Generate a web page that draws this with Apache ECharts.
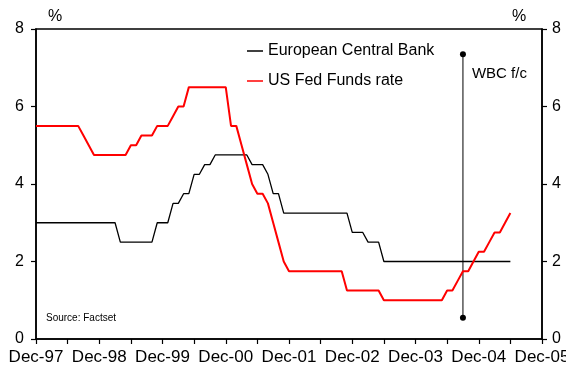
<!DOCTYPE html>
<html>
<head>
<meta charset="utf-8">
<script src="https://cdn.jsdelivr.net/npm/echarts@6/dist/echarts.min.js"></script>
<style>
  html, body { margin: 0; padding: 0; background: #ffffff; }
  #chart { width: 566px; height: 374px; }
</style>
</head>
<body>
<div id="chart"></div>
<script>
// Monthly policy rates, Dec-97 to Jun-05 (%)
const startYear = 1997, startMonth = 12, monthCount = 91;

const ecbRate = [
  3.0, 3.0, 3.0, 3.0, 3.0, 3.0, 3.0, 3.0, 3.0, 3.0, 3.0, 3.0, 3.0, 3.0, 3.0, 3.0,
  2.5, 2.5, 2.5, 2.5, 2.5, 2.5, 2.5,
  3.0, 3.0, 3.0,
  3.5, 3.5,
  3.75, 3.75,
  4.25, 4.25,
  4.5, 4.5,
  4.75, 4.75, 4.75, 4.75, 4.75, 4.75, 4.75,
  4.5, 4.5, 4.5,
  4.25,
  3.75, 3.75,
  3.25, 3.25, 3.25, 3.25, 3.25, 3.25, 3.25, 3.25, 3.25, 3.25, 3.25, 3.25, 3.25,
  2.75, 2.75, 2.75,
  2.5, 2.5, 2.5,
  2.0, 2.0, 2.0, 2.0, 2.0, 2.0, 2.0, 2.0, 2.0, 2.0, 2.0, 2.0, 2.0, 2.0, 2.0, 2.0,
  2.0, 2.0, 2.0, 2.0, 2.0, 2.0, 2.0, 2.0, 2.0
];

const fedRate = [
  5.5, 5.5, 5.5, 5.5, 5.5, 5.5, 5.5, 5.5, 5.5,
  5.25, 5.0,
  4.75, 4.75, 4.75, 4.75, 4.75, 4.75, 4.75,
  5.0, 5.0,
  5.25, 5.25, 5.25,
  5.5, 5.5, 5.5,
  5.75,
  6.0, 6.0,
  6.5, 6.5, 6.5, 6.5, 6.5, 6.5, 6.5, 6.5,
  5.5, 5.5,
  5.0, 4.5, 4.0,
  3.75, 3.75,
  3.5, 3.0, 2.5, 2.0,
  1.75, 1.75, 1.75, 1.75, 1.75, 1.75, 1.75, 1.75, 1.75, 1.75, 1.75,
  1.25, 1.25, 1.25, 1.25, 1.25, 1.25, 1.25,
  1.0, 1.0, 1.0, 1.0, 1.0, 1.0, 1.0, 1.0, 1.0, 1.0, 1.0, 1.0,
  1.25, 1.25,
  1.5,
  1.75, 1.75,
  2.0,
  2.25, 2.25,
  2.5,
  2.75, 2.75,
  3.0, 3.25
];

// Forecast marker: month index (Sep-04) and vertical extent
const forecastMonth = 81;
const forecastRange = [0.55, 7.35];
const forecastLabel = 'WBC f/c';

const xTickLabels = ['Dec-97', 'Dec-98', 'Dec-99', 'Dec-00', 'Dec-01', 'Dec-02', 'Dec-03', 'Dec-04', 'Dec-05'];
const yTicks = [0, 2, 4, 6, 8];

// Month offsets from Dec-97
const monthIndex = [];
for (let i = 0; i < monthCount; i++) monthIndex.push(i);

const FONT = '"Liberation Sans", Arial, sans-serif';

const ecbData = monthIndex.map((m, i) => [m, ecbRate[i]]);
const fedData = monthIndex.map((m, i) => [m, fedRate[i]]);
const forecastData = forecastRange.map(v => [forecastMonth, v]);

const axisLineStyle = { color: '#000', width: 1.5 };

function yAxisDef(pos) {
  return {
    type: 'value', position: pos, min: yTicks[0], max: yTicks[yTicks.length - 1], interval: 2,
    axisLine: { show: true, lineStyle: axisLineStyle },
    axisTick: { show: true, inside: false, length: 5, lineStyle: { color: '#000', width: 1.2 } },
    axisLabel: { color: '#000', fontSize: 16, fontFamily: FONT, margin: pos === 'left' ? 12 : 10 },
    splitLine: { show: false }
  };
}

const chart = echarts.init(document.getElementById('chart'), null, { renderer: 'canvas' });
chart.setOption({
  animation: false,
  backgroundColor: '#ffffff',
  grid: {
    left: 36, right: 24, top: 29, bottom: 35, containLabel: false, outerBoundsMode: 'none',
    show: true, borderColor: '#000', borderWidth: 1.5
  },
  xAxis: {
    type: 'value', min: 0, max: 96, interval: 6,
    axisLine: { show: true, onZero: false, lineStyle: axisLineStyle },
    axisTick: { show: true, inside: false, length: 5, lineStyle: { color: '#000', width: 1.2 } },
    axisLabel: {
      color: '#000', fontSize: 17, fontFamily: FONT, margin: 10,
      showMinLabel: true, showMaxLabel: true,
      formatter: v => (v % 12 === 0 ? xTickLabels[v / 12] : '')
    },
    splitLine: { show: false }
  },
  yAxis: [yAxisDef('left'), yAxisDef('right')],
  legend: {
    orient: 'vertical', left: 242, top: 38, itemGap: 14,
    icon: 'rect', itemWidth: 16, itemHeight: 1.5,
    textStyle: { color: '#000', fontSize: 16, fontFamily: FONT, lineHeight: 16 },
    data: ['European Central Bank', 'US Fed Funds rate']
  },
  series: [
    {
      name: 'European Central Bank', type: 'line', data: ecbData,
      showSymbol: false, symbol: 'none', color: '#000',
      lineStyle: { color: '#000', width: 1.3 }, z: 3
    },
    {
      name: 'US Fed Funds rate', type: 'line', data: fedData,
      showSymbol: false, symbol: 'none', color: '#ff0000',
      lineStyle: { color: '#ff0000', width: 2 }, z: 4
    },
    {
      name: 'forecast', type: 'line', data: forecastData,
      symbol: 'circle', symbolSize: 6, color: '#000',
      itemStyle: { color: '#000' },
      lineStyle: { color: '#000', width: 1 }, z: 2,
      label: {
        show: true, position: 'right', distance: 6, offset: [0, 20],
        color: '#000', fontSize: 15, fontFamily: FONT,
        formatter: p => (p.dataIndex === 1 ? forecastLabel : '')
      }
    }
  ],
  graphic: [
    { type: 'text', left: 48, top: 9, style: { text: '%', font: '16px ' + FONT, fill: '#000' } },
    { type: 'text', left: 512, top: 9, style: { text: '%', font: '16px ' + FONT, fill: '#000' } },
    { type: 'text', left: 46, top: 313, style: { text: 'Source: Factset', font: '10px ' + FONT, fill: '#000' } }
  ]
});
</script>
</body>
</html>
